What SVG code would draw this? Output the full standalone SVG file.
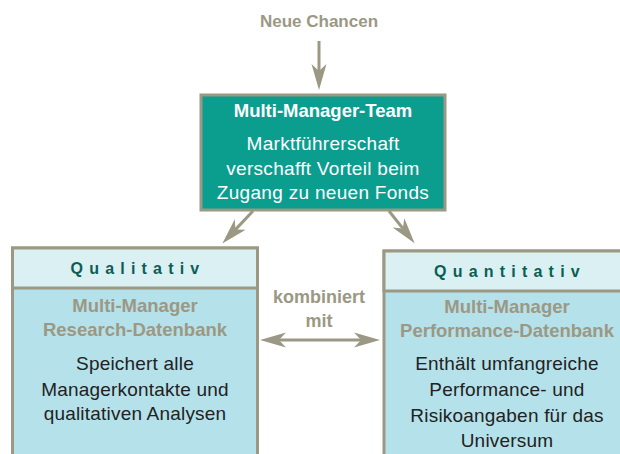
<svg xmlns="http://www.w3.org/2000/svg" width="620" height="454" viewBox="0 0 620 454">
<style>
.grey{fill:#9b9884;font-family:"Liberation Sans",Arial,sans-serif;font-weight:bold;text-anchor:middle}
.body{fill:#222;font-family:"Liberation Sans",Arial,sans-serif;font-size:19px;letter-spacing:0.2px;text-anchor:middle}
.white{fill:#fff;font-family:"Liberation Sans",Arial,sans-serif;text-anchor:middle}
.hdr{fill:#0b5e54;font-family:"Liberation Sans",Arial,sans-serif;font-weight:bold;font-size:16px;letter-spacing:6.2px;text-anchor:middle}
.frame{stroke:#9b9884;stroke-width:3}
.conn{stroke:#9b9884;stroke-width:3;fill:none}
</style>
<defs>
<marker id="ah" viewBox="-8 -9 30 18" refX="0" refY="0" markerWidth="30" markerHeight="18" markerUnits="userSpaceOnUse" orient="auto-start-reverse">
<path d="M19,0 L-7,-7.5 L0,0 L-7,7.5 Z" fill="#9b9884"/>
</marker>
</defs>
<text class="grey" x="319" y="27" font-size="17">Neue Chancen</text>
<g id="team">
<rect class="frame" x="201" y="95" width="244" height="115" fill="#0b9e8f"/>
<text class="white" x="323" y="117" font-size="18.5" font-weight="bold">Multi-Manager-Team</text>
<text class="white" x="323" y="150" font-size="19" letter-spacing="0.3">Marktführerschaft</text>
<text class="white" x="323" y="175" font-size="19" letter-spacing="0.3">verschafft Vorteil beim</text>
<text class="white" x="323" y="199" font-size="19" letter-spacing="0.3">Zugang zu neuen Fonds</text>
</g>
<g id="qualitativ">
<rect class="frame" x="12.5" y="248" width="245" height="220" fill="#b5e1ea"/>
<rect class="frame" x="12.5" y="248" width="245" height="40" fill="#dbf0f3"/>
<text class="hdr" x="138" y="274">Qualitativ</text>
<text class="grey" x="135" y="312" font-size="18.5">Multi-Manager</text>
<text class="grey" x="135" y="336" font-size="18.5">Research-Datenbank</text>
<text class="body" x="135" y="370">Speichert alle</text>
<text class="body" x="135" y="396">Managerkontakte und</text>
<text class="body" x="135" y="420">qualitativen Analysen</text>
</g>
<g id="quantitativ">
<rect class="frame" x="384" y="251" width="260" height="220" fill="#b5e1ea"/>
<rect class="frame" x="384" y="251" width="260" height="40" fill="#dbf0f3"/>
<text class="hdr" x="510" y="277">Quantitativ</text>
<text class="grey" x="507" y="313" font-size="18.5">Multi-Manager</text>
<text class="grey" x="507" y="337" font-size="18.5">Performance-Datenbank</text>
<text class="body" x="507" y="370">Enthält umfangreiche</text>
<text class="body" x="507" y="396">Performance- und</text>
<text class="body" x="507" y="422">Risikoangaben für das</text>
<text class="body" x="507" y="447">Universum</text>
</g>
<text class="grey" x="319" y="303" font-size="18">kombiniert</text>
<text class="grey" x="319" y="327" font-size="18">mit</text>
<g id="connectors">
<line class="conn" x1="319" y1="41" x2="319" y2="71" marker-end="url(#ah)"/>
<line class="conn" x1="253" y1="211" x2="235.4" y2="229.6" marker-end="url(#ah)"/>
<line class="conn" x1="389" y1="211" x2="402.8" y2="228.4" marker-end="url(#ah)"/>
<line class="conn" x1="279" y1="340" x2="361" y2="340" marker-start="url(#ah)" marker-end="url(#ah)"/>
</g>
</svg>
